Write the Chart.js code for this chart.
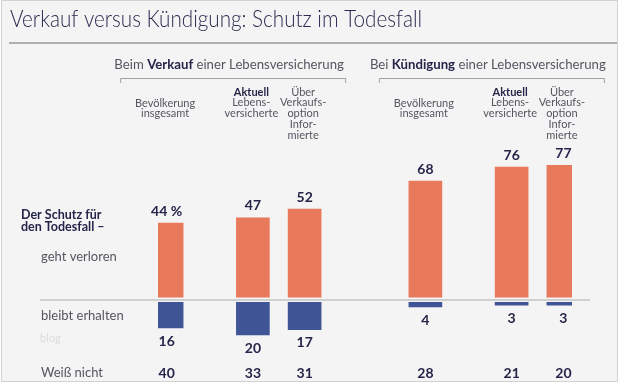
<!DOCTYPE html>
<html>
<head>
<meta charset="utf-8">
<script src="https://cdn.jsdelivr.net/npm/chart.js@4/dist/chart.umd.min.js"></script>
<style>
html,body{margin:0;padding:0;background:#fff;}
#wrap{position:relative;width:621px;height:383px;}
canvas{position:absolute;left:0;top:0;}
</style>
</head>
<body>
<div id="wrap"><canvas id="c" width="621" height="383"></canvas></div>
<script>
// ---- data ----
const groups = ['Verkauf', 'Kündigung'];
const categories = ['Bevölkerung insgesamt', 'Aktuell Lebensversicherte', 'Über Verkaufsoption Informierte',
                    'Bevölkerung insgesamt', 'Aktuell Lebensversicherte', 'Über Verkaufsoption Informierte'];
const gehtVerloren   = [44, 47, 52, 68, 76, 77];
const bleibtErhalten = [16, 20, 17, 4, 3, 3];
const weissNicht     = [40, 33, 31, 28, 21, 20];
const rowLabels = ['geht verloren', 'bleibt erhalten', 'Weiß nicht'];

// ---- layout (not data) ----
const slots = [0, 5, 8, 15, 20, 23];
const nSlots = 24;
const catLines = {
  'Bevölkerung insgesamt': [['Bevölkerung', false], ['insgesamt', false]],
  'Aktuell Lebensversicherte': [['Aktuell', true], ['Lebens-', false], ['versicherte', false]],
  'Über Verkaufsoption Informierte': [['Über', false], ['Verkaufs-', false], ['option', false], ['Infor-', false], ['mierte', false]]
};
const FONT = 'Lato, "Open Sans", sans-serif';
const NAVY = '#25254a';
const GREY = '#555560';
const ORANGE = '#e9795b';
const BLUE = '#3f5596';
const BG = '#f4f4f4';

const labels = Array.from({length: nSlots}, () => '');
const orangeData = Array(nSlots).fill(null);
const blueData = Array(nSlots).fill(null);
slots.forEach((s, i) => {
  labels[s] = categories[i];
  orangeData[s] = gehtVerloren[i];
  blueData[s] = -bleibtErhalten[i];
});

function drawMixed(ctx, parts, x, y, align, size) {
  let widths = parts.map(p => { ctx.font = (p[1] ? 'bold ' : '') + size + 'px ' + FONT; return ctx.measureText(p[0]).width; });
  let total = widths.reduce((a, b) => a + b, 0);
  let cx = align === 'center' ? x - total / 2 : x;
  ctx.textAlign = 'left';
  parts.forEach((p, i) => {
    ctx.font = (p[1] ? 'bold ' : '') + size + 'px ' + FONT;
    ctx.fillStyle = p[1] ? NAVY : GREY;
    ctx.fillText(p[0], cx, y);
    cx += widths[i];
  });
}

const decor = {
  id: 'decor',
  beforeDraw(chart) {
    const ctx = chart.ctx;
    ctx.save();
    ctx.fillStyle = '#ffffff';
    ctx.fillRect(0, 0, 621, 383);
    ctx.fillStyle = BG;
    ctx.fillRect(1.5, 0.5, 616, 381);
    ctx.strokeStyle = '#d2d2d2';
    ctx.lineWidth = 1;
    ctx.strokeRect(1.5, 0.5, 616, 381);
    ctx.restore();
  },
  afterDatasetsDraw(chart) {
    const ctx = chart.ctx;
    const y0 = chart.scales.y.getPixelForValue(0);
    ctx.save();
    ctx.fillStyle = BG;
    ctx.fillRect(40, y0 - 2.5, 550, 4.5);
    ctx.strokeStyle = '#ababab';
    ctx.lineWidth = 1.2;
    ctx.beginPath();
    ctx.moveTo(40, y0);
    ctx.lineTo(590, y0);
    ctx.stroke();
    ctx.restore();
  },
  afterDraw(chart) {
    const ctx = chart.ctx;
    const xs = chart.scales.x, ys = chart.scales.y;
    ctx.save();
    ctx.textBaseline = 'middle';
    // title (horizontally condensed to match the reference width)
    ctx.save();
    ctx.fillStyle = '#2a2a50';
    ctx.font = '300 24px ' + FONT;
    ctx.textAlign = 'left';
    const title = 'Verkauf versus Kündigung: Schutz im Todesfall';
    const tw = ctx.measureText(title).width;
    ctx.translate(10, 19);
    ctx.scale(412 / tw, 1);
    ctx.fillText(title, 0, 0);
    ctx.restore();
    // rule under title
    ctx.strokeStyle = '#9a9a9a';
    ctx.lineWidth = 1.5;
    ctx.beginPath(); ctx.moveTo(9, 43); ctx.lineTo(617, 43); ctx.stroke();

    // group headers + brackets
    const groupSlots = [[0, 2], [3, 5]];
    const prefix = ['Beim ', 'Bei '];
    groupSlots.forEach((g, gi) => {
      const xl = xs.getPixelForValue(slots[g[0]]) - 46;
      const xr = xs.getPixelForValue(slots[g[1]]) + 41;
      ctx.strokeStyle = '#a0a0a0';
      ctx.lineWidth = 1;
      ctx.beginPath();
      ctx.moveTo(xl, 83); ctx.lineTo(xl, 78.5); ctx.lineTo(xr, 78.5); ctx.lineTo(xr, 83);
      ctx.stroke();
      drawMixed(ctx, [[prefix[gi], false], [groups[gi], true], [' einer Lebensversicherung', false]], (xl + xr) / 2 - 4, 65, 'center', 13.2);
    });

    // category labels
    slots.forEach((s, i) => {
      const cx = xs.getPixelForValue(s) - 1.5;
      const lines = catLines[categories[i]];
      const startY = lines.length === 2 ? 103 : 92;
      lines.forEach((ln, li) => {
        drawMixed(ctx, [ln], cx, startY + li * 10.8, 'center', 11);
      });
    });

    // value labels
    ctx.fillStyle = NAVY;
    ctx.font = 'bold 14px ' + FONT;
    ctx.textAlign = 'center';
    slots.forEach((s, i) => {
      const cx = xs.getPixelForValue(s);
      const top = ys.getPixelForValue(gehtVerloren[i]);
      ctx.fillText(gehtVerloren[i] + (i === 0 ? ' %' : ''), cx, top - 12);
      const bot = ys.getPixelForValue(-bleibtErhalten[i]);
      ctx.fillText(String(bleibtErhalten[i]), cx, bot + 13);
      ctx.fillText(String(weissNicht[i]), cx, 373);
    });

    // left labels
    ctx.textAlign = 'left';
    ctx.fillStyle = NAVY;
    ctx.font = 'bold 12.5px ' + FONT;
    ctx.fillText('Der Schutz für', 21, 215);
    ctx.fillText('den Todesfall –', 21, 227);
    ctx.fillStyle = GREY;
    ctx.font = '13px ' + FONT;
    ctx.fillText(rowLabels[0], 41, 257);
    ctx.fillText(rowLabels[1], 41, 316);
    ctx.fillText(rowLabels[2], 41, 373);
    ctx.fillStyle = '#dcdcdc';
    ctx.font = '11px ' + FONT;
    ctx.fillText('blog', 40, 338);
    ctx.restore();
  }
};

new Chart(document.getElementById('c'), {
  type: 'bar',
  data: {
    labels: labels,
    datasets: [
      { label: rowLabels[0], data: orangeData, backgroundColor: ORANGE, barThickness: 33, borderWidth: 0 },
      { label: rowLabels[1], data: blueData, backgroundColor: BLUE, barThickness: 33, borderWidth: 0 }
    ]
  },
  options: {
    responsive: false,
    animation: false,
    events: [],
    layout: { padding: { left: 158, right: 49, top: 125, bottom: 13 } },
    plugins: { legend: { display: false }, tooltip: { enabled: false } },
    scales: {
      x: { display: false, stacked: true },
      y: { display: false, stacked: true, min: -40, max: 100 }
    }
  },
  plugins: [decor]
});
</script>
</body>
</html>
